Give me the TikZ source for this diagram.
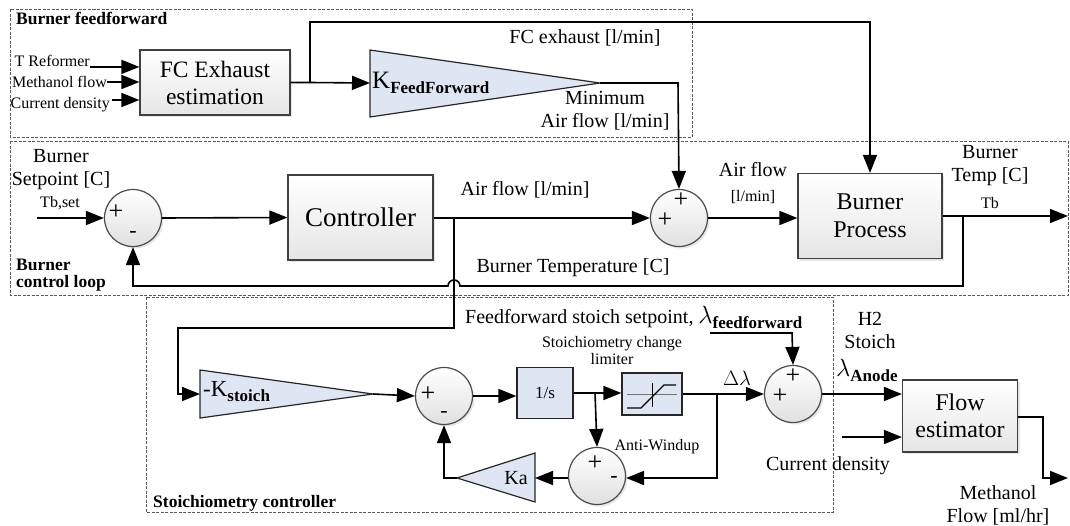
\documentclass[tikz,border=0pt]{standalone}
\usepackage{fontspec}
\setmainfont{Liberation Serif}
\usepackage{tikz}
\usetikzlibrary{arrows.meta,shadows}

\definecolor{gainblue}{HTML}{DFE6F3}
\newcommand{\fsz}[1]{\fontsize{#1}{#1}\selectfont}
\newcommand{\bsub}[1]{\raisebox{-5pt}{\fontsize{17}{17}\selectfont\bfseries #1}}

\begin{document}
\begin{tikzpicture}[x=1pt,y=-1pt,
  sig/.style={line width=1.6pt,-{Triangle[length=18pt,width=14pt]}},
  group/.style={draw=black!65,line width=0.6pt,dash pattern=on 3pt off 1.5pt},
  block/.style={draw=black!75,line width=1.2pt,top color=white,bottom color=black!10,
    drop shadow={opacity=0.2,shadow xshift=2pt,shadow yshift=-2pt},align=center,inner sep=0pt},
  bluebox/.style={draw=black!85,line width=1.2pt,fill=gainblue,inner sep=0pt},
  gain/.style={draw=black!85,line width=1.2pt,fill=gainblue},
  sum/.style={circle,draw=black!70,line width=1.2pt,top color=white,bottom color=black!12,
    drop shadow={opacity=0.2,shadow xshift=2pt,shadow yshift=-2pt},minimum size=57pt,inner sep=0pt},
  plus/.style={font=\fsz{26},inner sep=0pt},
  minus/.style={font=\fsz{22},inner sep=0pt},
  lbl/.style={font=\fsz{20},align=center,inner sep=0pt},
  small/.style={font=\fsz{16},align=center,inner sep=0pt},
  title/.style={font=\fsz{17.5}\bfseries,align=left,inner sep=0pt,anchor=west}]
\useasboundingbox (0,0) rectangle (1070,525);

% group frames
\draw[group] (10,9) rectangle (692,137);
\draw[group] (10,141) rectangle (1068,295);
\draw[group] (146,297) rectangle (833,512);
\node[title] (tff) at (16,18) {Burner feedforward};
\node[title] (tcl) at (16,275) {Burner\\control loop};
\node[title] (tst) at (153,503) {Stoichiometry controller};

% burner feedforward
\node[block,minimum width=150,minimum height=65,font=\fontsize{23.5}{27}\selectfont] (fce) at (215,82.5) {FC Exhaust\\estimation};
\node[font=\fsz{16},inner sep=0pt,anchor=east] (tref) at (90,61) {T Reformer};
\node[font=\fsz{16},inner sep=0pt,anchor=east] (mflow) at (107,82) {Methanol flow};
\node[font=\fsz{16},inner sep=0pt,anchor=east] (cdens) at (110,105) {Current density};
\draw[sig] (tref.south east) -- (fce.west |- tref.south east);
\draw[sig] (mflow.east) -- (fce.west |- mflow.east);
\draw[sig] (112,100) -- (fce.west |- 0,100);
\coordinate (fcej) at (310,82.5);
\draw[gain] (370,50) -- (600,83) -- (370,117) -- cycle;
\coordinate (kffin) at (370,83);
\coordinate (kffout) at (600,83);
\node[anchor=west,inner sep=0pt,font=\fsz{25}] (kfft) at (372,83) {K\bsub{FeedForward}};
\draw[sig] (fce.east |- fcej) -- (fcej) -- (kffin);
\node[lbl] (fcexl) at (585,38) {FC exhaust [l/min]};
\node[lbl] (minl) at (605,111) {Minimum\\[3pt]Air flow [l/min]};

% burner control loop
\node[lbl,align=center] (spl) at (61,170) {Burner\\[3pt]Setpoint [C]};
\node[small] (tbset) at (60,203) {Tb,set};
\coordinate (tbin) at (37,218);
\node[sum] (s1) at (133,218) {};
\node[block,minimum width=145,minimum height=85,font=\fsz{27}] (ctrl) at (360.5,217.5) {Controller};
\node[sum] (s2) at (679,218) {};
\node[block,minimum width=144,minimum height=85,font=\fontsize{24}{28}\selectfont] (proc) at (870,216) {Burner\\Process};
\coordinate (airj) at (454,218);
\coordinate (tbj) at (963,216);
\coordinate (tbout) at (1068,216);
\draw[sig] (tbin) -- (s1.west);
\draw[sig] (s1.east) -- (ctrl.west);
\draw[sig] (ctrl.east |- airj) -- (s2.west);
\draw[sig] (s2.east) -- (proc.west |- s2.east);
\draw[sig] (proc.east |- tbj) -- (tbout);
\draw[sig] (tbj) -- (963,286) -- (460,286) arc[start angle=0,end angle=-180,radius=6] -- (133,286) -- (s1.south);
\draw[sig] (fcej) -- (310,22) -- (870,22) -- (proc.north);
\draw[sig] (kffout) -- (678,83) -- (s2.north);
\node[lbl] (airl) at (525,190) {Air flow [l/min]};
\node[lbl] (airl2) at (753,170) {Air flow};
\node[small] (airl3) at (753,197) {[l/min]};
\node[lbl] (btl) at (990,166) {Burner\\[3pt]Temp [C]};
\node[small] (tbl) at (990,203) {Tb};
\node[lbl] (btempl) at (573,268) {Burner Temperature [C]};

% stoichiometry controller
\draw[gain] (200,370) -- (373,394) -- (200,418) -- cycle;
\coordinate (ksin) at (200,394);
\coordinate (ksout) at (373,394);
\node[anchor=west,inner sep=0pt,font=\fsz{23}] (kst) at (203,392) {-K\bsub{stoich}};
\node[sum] (s3) at (444,396) {};
\node[bluebox,minimum width=56,minimum height=51,font=\fsz{17}] (integ) at (545,393) {1/s};
\node[bluebox,minimum width=60,minimum height=42] (lim) at (652,394) {};
\draw[black!55,line width=0.8pt] (627,394) -- (677,394);
\draw[line width=0.8pt] (652,383) -- (652,407);
\draw[line width=1.2pt] (627,408) -- (641,408) -- (664,385) -- (676,385);
\node[sum] (s4) at (597,476) {};
\draw[gain] (535,453) -- (457,478) -- (535,502) -- cycle;
\coordinate (kain) at (535,478);
\coordinate (kaout) at (457,478);
\node[font=\fsz{20},inner sep=0pt] (kat) at (516,478) {Ka};
\node[sum] (s5) at (793,394) {};
\node[block,minimum width=115,minimum height=72,font=\fontsize{24}{27}\selectfont] (flow) at (960,416) {Flow\\estimator};
\coordinate (limj) at (717,394);
\coordinate (intj) at (595,393);
\draw[sig] (airj) -- (454,328) -- (178,328) -- (178,394) -- (ksin);
\draw[sig] (ksout) -- (s3.west);
\draw[sig] (s3.east) -- (integ.west |- s3.east);
\draw[sig] (integ.east) -- (lim.west |- integ.east);
\draw[sig] (intj) -- (s4.north);
\draw[sig] (lim.east) -- (s5.west);
\draw[sig] (limj) -- (717,478) -- (s4.east |- 0,478);
\draw[sig] (s4.west |- 0,478) -- (kain);
\draw[sig] (kaout) -- (444,478) -- (s3.south);
\draw[sig] (710,333) -- (792,333) -- (s5.north);
\draw[sig] (s5.east) -- (flow.west |- s5.east);
\draw[sig] (842,437) -- (flow.west |- 0,437);
\draw[sig] (flow.east |- 0,417) -- (1043,417) -- (1043,478) -- (1068,478);
\node[anchor=west,inner sep=0pt,font=\fsz{20}] (ffl) at (465,317) {Feedforward stoich setpoint, \fsz{24}$\lambda$\bsub{feedforward}};
\node[small] (liml) at (612,351) {Stoichiometry change\\[1pt]limiter};
\node[font=\fsz{22},inner sep=0pt] (dl) at (737,378) {$\Delta\lambda$};
\node[small] (awl) at (657,447) {Anti-Windup};
\node[lbl] (h2l) at (870,330) {H2\\[3pt]Stoich};
\node[anchor=west,inner sep=0pt,font=\fsz{24}] (lal) at (836,370) {$\lambda$\bsub{Anode}};
\node[lbl] (cdl) at (828,466) {Current density};
\node[lbl] (mfl) at (998,505) {Methanol\\[3pt]Flow [ml/hr]};

% signs
\node[plus] at (116,212) {+};
\node[minus] at (133,234) {-};
\node[plus] at (681,200) {+};
\node[plus] at (665,220) {+};
\node[plus] at (428,394) {+};
\node[minus] at (444,414) {-};
\node[plus] at (595,463) {+};
\node[minus] at (614,479) {-};
\node[plus] at (793,376) {+};
\node[plus] at (780,396) {+};
\end{tikzpicture}
\end{document}
